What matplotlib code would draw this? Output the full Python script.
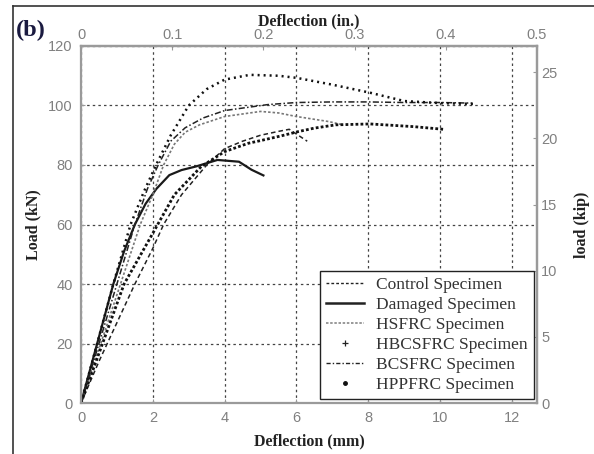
import matplotlib
matplotlib.use('Agg')
import matplotlib.pyplot as plt
from matplotlib.lines import Line2D

# Load-deflection curves (deflection in mm, load in kN)
control_x = [0, 0.5, 1.0, 1.5, 2.0, 2.3, 2.8, 3.5, 4.0, 4.5, 5.0, 5.5, 5.8, 6.05, 6.3]
control_y = [0, 14, 27, 40, 52, 60, 70, 80, 85.5, 88, 90, 91.3, 92, 90, 88]

damaged_x = [0, 0.45, 0.9, 1.2, 1.5, 1.8, 2.1, 2.46, 2.8, 3.2, 3.8, 4.4, 4.75, 5.08]
damaged_y = [0, 20, 40, 51, 60, 67, 72, 76.6, 78.3, 79.5, 81.7, 81.1, 78.4, 76.5]

hsfrc_x = [0, 0.55, 1.1, 1.65, 2.0, 2.3, 2.6, 2.9, 3.3, 4.0, 5.0, 5.5, 6.0, 6.9, 7.3]
hsfrc_y = [0, 20, 40, 60, 70, 80, 87, 91, 93.5, 96.3, 98, 97.5, 96.3, 94.6, 93.5]

hbcsfrc_x = [0, 0.6, 1.2, 1.95, 2.6, 3.35, 4.0, 4.66, 5.0, 5.58, 6.04, 6.5, 7.1, 8.05, 9.26, 10.09]
hbcsfrc_y = [0, 20, 40, 56, 70, 79.5, 84.5, 87.3, 88.2, 89.8, 91.2, 92.4, 93.5, 93.8, 92.9, 92.0]

bcsfrc_x = [0, 0.5, 1.0, 1.5, 1.85, 2.15, 2.5, 2.9, 3.4, 4.0, 5.2, 6.0, 7.0, 8.0, 9.0, 10.0, 10.9]
bcsfrc_y = [0, 20, 40, 60, 72, 80, 88, 92.5, 95.8, 98.3, 100.3, 101, 101.2, 101.2, 101, 101, 100.8]

hppfrc_x = [0, 0.45, 0.9, 1.38, 1.75, 2.09, 2.5, 3.0, 3.5, 4.0, 4.7, 5.5, 6.0, 7.0, 8.05, 9.0, 10.0, 11.0]
hppfrc_y = [0, 20, 40, 60, 71, 80, 90, 100, 105.5, 108.7, 110.3, 110, 109.3, 107, 104.3, 101.5, 100.8, 100.5]

labels = ['Control Specimen', 'Damaged Specimen', 'HSFRC Specimen',
          'HBCSFRC Specimen', 'BCSFRC Specimen', 'HPPFRC Specimen']

MM_PER_IN = 25.4
KN_PER_KIP = 4.448

serif = 'Liberation Serif'
sans = 'Liberation Sans'
tick_gray = '#808080'
spine_gray = '#9a9a9a'

fig = plt.figure(figsize=(5.94, 4.54), dpi=100)
ax = fig.add_axes([0.1364, 0.1123, 0.7676, 0.7864])

ax.plot(control_x, control_y, color='#222222', lw=1.1, ls=(0, (3, 2)))
ax.plot(damaged_x, damaged_y, color='#1a1a1a', lw=1.6, ls='-')
ax.plot(hsfrc_x, hsfrc_y, color='#777777', lw=1.2, ls=(0, (1.5, 1.2)))
ax.plot(hbcsfrc_x, hbcsfrc_y, color='#111111', lw=2.0, ls=(0, (1, 0.8)))
ax.plot(bcsfrc_x, bcsfrc_y, color='#222222', lw=1.1, ls=(0, (4, 1.5, 1, 1.5)))
ax.plot(hppfrc_x, hppfrc_y, color='#111111', lw=1.8, ls=(0, (0.8, 1.6)))

ax.set_xlim(0, 0.5 * MM_PER_IN)
ax.set_ylim(0, 120)
ax.set_xticks(range(0, 13, 2))
ax.set_yticks(range(0, 121, 20))
ax.grid(True, color='#444444', ls=(0, (2, 2.5)), lw=0.9)

for s in ax.spines.values():
    s.set_color(spine_gray)
    s.set_linewidth(1.6)
ax.tick_params(direction='in', length=3, color=spine_gray, labelcolor=tick_gray,
               labelsize=10.5, pad=6)
for t in ax.get_xticklabels() + ax.get_yticklabels():
    t.set_fontfamily(sans)

top = ax.secondary_xaxis('top', functions=(lambda x: x / MM_PER_IN, lambda x: x * MM_PER_IN))
top.set_xticks([0, 0.1, 0.2, 0.3, 0.4, 0.5])
top.set_xticklabels(['0', '0.1', '0.2', '0.3', '0.4', '0.5'])
right = ax.secondary_yaxis('right', functions=(lambda y: y / KN_PER_KIP, lambda y: y * KN_PER_KIP))
right.set_yticks([0, 5, 10, 15, 20, 25])
for sec in (top, right):
    sec.tick_params(direction='in', length=3, color=spine_gray, labelcolor=tick_gray,
                    labelsize=10.5, pad=3)
    for s in sec.spines.values():
        s.set_color(spine_gray)
        s.set_linewidth(1.6)
for t in top.get_xticklabels() + right.get_yticklabels():
    t.set_fontfamily(sans)

lab_kw = dict(fontfamily=serif, fontweight='bold', fontsize=11.5, color='#222222')
ax.set_xlabel('Deflection (mm)', labelpad=6, **lab_kw)
ax.set_ylabel('Load (kN)', labelpad=5, **lab_kw)
top.set_xlabel('Deflection (in.)', labelpad=2, **lab_kw)
right.set_ylabel('load (kip)', labelpad=12, rotation=90, **lab_kw)

handles = [
    Line2D([], [], color='#222222', lw=1.0, ls=(0, (2, 1.5))),
    Line2D([], [], color='#222222', lw=1.8, ls='-'),
    Line2D([], [], color='#888888', lw=1.2, ls=(0, (1.5, 1))),
    Line2D([], [], color='#222222', ls='none', marker='+', ms=4, mew=0.9),
    Line2D([], [], color='#222222', lw=1.0, ls=(0, (3, 1.5, 1, 1.5))),
    Line2D([], [], color='#111111', ls='none', marker='.', ms=5),
]
leg = ax.legend(handles, labels, loc='lower right', bbox_to_anchor=(0.993, 0.012),
                prop={'family': serif, 'size': 12.5}, fancybox=False, framealpha=1,
                edgecolor='#222222', handlelength=2.2, handletextpad=0.7,
                labelspacing=0.22, borderpad=0.35, borderaxespad=0)
leg.get_frame().set_linewidth(1.0)
for t in leg.get_texts():
    t.set_color('#333333')

fig.text(0.027, 0.92, '(b)', fontfamily=serif, fontweight='bold', fontsize=17.5,
         color='#1a1a40')

# frame remnants on left and top edges
fig.add_artist(Line2D([0.022, 0.022], [0.0, 0.987], color='#333333', lw=1.2,
                      transform=fig.transFigure))
fig.add_artist(Line2D([0.022, 1.0], [0.987, 0.987], color='#333333', lw=1.2,
                      transform=fig.transFigure))

fig.savefig('out.png', dpi=100)
